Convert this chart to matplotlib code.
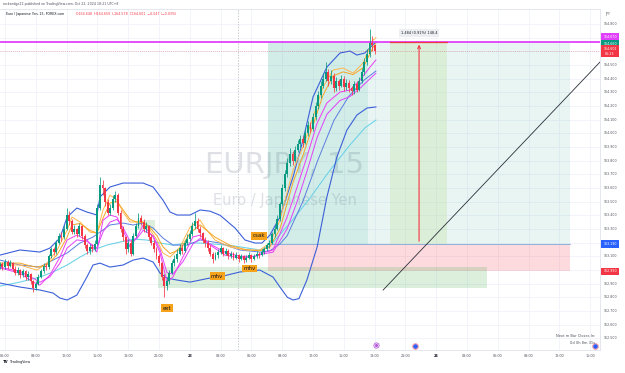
import matplotlib
matplotlib.use('Agg')
import matplotlib.pyplot as plt
import matplotlib.transforms as mtransforms
from matplotlib.patches import Rectangle
import numpy as np

# ---------------- data ----------------
bar_start = -2
closes = [163.04, 163.02, 163.06, 163.03, 163.05, 163.01, 162.98, 163.00, 162.96, 162.99,
          162.95, 162.97, 162.92, 162.87, 162.90, 162.95, 162.99, 163.03, 163.02, 163.10,
          163.15, 163.13, 163.20, 163.25, 163.24, 163.30, 163.40, 163.36, 163.28, 163.30,
          163.26, 163.32, 163.25, 163.18, 163.14, 163.17, 163.15, 163.19, 163.45, 163.62,
          163.60, 163.50, 163.42, 163.45, 163.52, 163.55, 163.42, 163.30, 163.24, 163.15,
          163.20, 163.12, 163.25, 163.32, 163.38, 163.35, 163.30, 163.32, 163.24, 163.20,
          163.15, 163.10, 163.05, 162.95, 162.88, 162.92, 162.98, 163.05, 163.08, 163.12,
          163.16, 163.14, 163.20, 163.23, 163.26, 163.32, 163.36, 163.30, 163.27, 163.22,
          163.20, 163.16, 163.12, 163.08, 163.11, 163.13, 163.16, 163.12, 163.14, 163.10,
          163.12, 163.09, 163.11, 163.08, 163.10, 163.07, 163.09, 163.11, 163.08, 163.10,
          163.12, 163.11, 163.13, 163.15, 163.18, 163.20, 163.26, 163.30, 163.37, 163.48,
          163.60, 163.70, 163.78, 163.85, 163.80, 163.88, 163.92, 163.96, 163.93, 164.00,
          164.06, 164.03, 164.12, 164.20, 164.28, 164.35, 164.40, 164.45, 164.38, 164.42,
          164.33, 164.38, 164.35, 164.40, 164.34, 164.37, 164.33, 164.31, 164.36, 164.32,
          164.38, 164.45, 164.52, 164.58, 164.66, 164.648, 164.601]
opens = [163.03, 163.04, 163.02, 163.06, 163.03, 163.05, 163.01, 162.98, 163.00, 162.96,
         162.99, 162.95, 162.97, 162.92, 162.87, 162.90, 162.95, 162.99, 163.03, 163.02,
         163.10, 163.15, 163.13, 163.20, 163.25, 163.24, 163.30, 163.40, 163.36, 163.28,
         163.30, 163.26, 163.32, 163.25, 163.18, 163.14, 163.17, 163.15, 163.19, 163.45,
         163.62, 163.60, 163.50, 163.42, 163.45, 163.52, 163.55, 163.42, 163.30, 163.24,
         163.15, 163.20, 163.12, 163.25, 163.32, 163.38, 163.35, 163.30, 163.32, 163.24,
         163.20, 163.15, 163.10, 163.05, 162.95, 162.88, 162.92, 162.98, 163.05, 163.08,
         163.12, 163.16, 163.14, 163.20, 163.23, 163.26, 163.32, 163.36, 163.30, 163.27,
         163.22, 163.20, 163.16, 163.12, 163.08, 163.11, 163.13, 163.16, 163.12, 163.14,
         163.10, 163.12, 163.09, 163.11, 163.08, 163.10, 163.07, 163.09, 163.11, 163.08,
         163.10, 163.12, 163.11, 163.13, 163.15, 163.18, 163.20, 163.26, 163.30, 163.37,
         163.48, 163.60, 163.70, 163.78, 163.85, 163.80, 163.88, 163.92, 163.96, 163.93,
         164.00, 164.06, 164.03, 164.12, 164.20, 164.28, 164.35, 164.40, 164.45, 164.38,
         164.42, 164.33, 164.38, 164.35, 164.40, 164.34, 164.37, 164.33, 164.31, 164.36,
         164.32, 164.38, 164.45, 164.52, 164.58, 164.66, 164.648]
highs = [163.06, 163.06, 163.08, 163.07, 163.07, 163.06, 163.03, 163.02, 163.01, 163.01,
         163.00, 162.99, 162.98, 162.93, 162.92, 162.97, 163.01, 163.05, 163.05, 163.12,
         163.17, 163.17, 163.22, 163.27, 163.28, 163.33, 163.45, 163.43, 163.37, 163.33,
         163.31, 163.34, 163.33, 163.26, 163.20, 163.19, 163.19, 163.22, 163.48, 163.68,
         163.66, 163.61, 163.52, 163.48, 163.55, 163.58, 163.56, 163.44, 163.32, 163.25,
         163.23, 163.22, 163.27, 163.34, 163.42, 163.40, 163.37, 163.35, 163.33, 163.26,
         163.22, 163.17, 163.12, 163.06, 162.97, 162.95, 163.00, 163.07, 163.11, 163.15,
         163.19, 163.18, 163.22, 163.26, 163.29, 163.35, 163.42, 163.38, 163.32, 163.28,
         163.24, 163.22, 163.18, 163.13, 163.13, 163.15, 163.18, 163.17, 163.16, 163.15,
         163.14, 163.13, 163.13, 163.12, 163.12, 163.11, 163.11, 163.13, 163.12, 163.12,
         163.14, 163.13, 163.15, 163.17, 163.20, 163.22, 163.28, 163.33, 163.40, 163.50,
         163.63, 163.73, 163.82, 163.89, 163.87, 163.91, 163.95, 163.99, 163.98, 164.03,
         164.09, 164.08, 164.15, 164.23, 164.31, 164.38, 164.44, 164.52, 164.47, 164.46,
         164.44, 164.41, 164.40, 164.43, 164.42, 164.40, 164.39, 164.35, 164.38, 164.38,
         164.41, 164.48, 164.55, 164.62, 164.76, 164.71, 164.650]
lows = [163.01, 163.00, 163.01, 163.01, 163.02, 162.99, 162.96, 162.96, 162.94, 162.95,
        162.93, 162.93, 162.90, 162.84, 162.85, 162.89, 162.94, 162.98, 163.00, 163.01,
        163.09, 163.11, 163.12, 163.19, 163.21, 163.23, 163.29, 163.33, 163.26, 163.26,
        163.24, 163.25, 163.23, 163.16, 163.12, 163.12, 163.13, 163.14, 163.18, 163.44,
        163.55, 163.47, 163.40, 163.40, 163.44, 163.50, 163.40, 163.28, 163.21, 163.12,
        163.13, 163.10, 163.11, 163.24, 163.31, 163.33, 163.28, 163.28, 163.22, 163.18,
        163.13, 163.08, 163.03, 162.93, 162.80, 162.85, 162.90, 162.97, 163.03, 163.06,
        163.11, 163.12, 163.13, 163.18, 163.21, 163.25, 163.30, 163.28, 163.24, 163.20,
        163.17, 163.14, 163.10, 163.05, 163.07, 163.09, 163.12, 163.10, 163.11, 163.08,
        163.09, 163.07, 163.08, 163.06, 163.07, 163.05, 163.06, 163.08, 163.06, 163.07,
        163.09, 163.09, 163.10, 163.12, 163.14, 163.16, 163.19, 163.24, 163.29, 163.36,
        163.47, 163.58, 163.68, 163.76, 163.77, 163.79, 163.86, 163.90, 163.90, 163.92,
        163.98, 164.01, 164.02, 164.10, 164.18, 164.26, 164.33, 164.38, 164.35, 164.36,
        164.30, 164.31, 164.32, 164.34, 164.31, 164.32, 164.30, 164.28, 164.29, 164.30,
        164.31, 164.37, 164.43, 164.50, 164.56, 164.60, 164.578]

# indicator lines (bar index, price)
bb_up_x = [-1.9, 5.8, 13.6, 17.5, 21.4, 24.2, 28.0, 31.9, 35.8, 37.0, 40.9, 46.0, 53.8, 57.7, 61.5,
           64.3, 67.0, 72.1, 76.0, 79.9, 83.8, 89.6, 93.5, 97.4, 100.1, 103.2, 107.1, 112.2, 116.1,
           120.0, 125.4, 130.5, 134.4, 137.1, 140.2, 143.4, 144.5]
bb_up_y = [163.109, 163.146, 163.131, 163.160, 163.234, 163.387, 163.453, 163.424, 163.402, 163.534,
           163.607, 163.636, 163.636, 163.607, 163.512, 163.424, 163.402, 163.402, 163.439, 163.43,
           163.40, 163.307, 163.219, 163.197, 163.197, 163.255, 163.387, 163.680, 163.951, 164.266,
           164.485, 164.588, 164.602, 164.573, 164.588, 164.65, 164.668]
bb_lo_x = [-1.9, 5.8, 13.6, 18.7, 21.4, 24.2, 28.0, 31.9, 34.3, 37.0, 40.9, 46.0, 49.9, 53.8, 57.7,
           60.4, 63.1, 67.0, 72.1, 76.0, 79.9, 83.8, 91.5, 99.3, 104.4, 107.1, 110.0, 112.2, 114.5,
           117.6, 121.6, 125.4, 129.3, 133.2, 137.1, 141.0, 144.5]
bb_lo_y = [162.904, 162.875, 162.853, 162.831, 162.794, 162.780, 162.816, 162.948, 163.036, 163.050,
           163.021, 163.036, 163.072, 163.087, 163.058, 162.977, 162.941, 162.926, 162.911, 162.926,
           162.941, 162.95, 162.985, 162.999, 162.948, 162.875, 162.80, 162.78, 162.79, 162.926,
           163.168, 163.534, 163.827, 164.024, 164.134, 164.185, 164.193]
bb_mid_x = [-1.9, 5.8, 13.6, 18.7, 24.2, 29.2, 34.3, 37.0, 40.9, 46.0, 49.9, 53.8, 57.7, 61.5, 65.4,
            70.9, 76.0, 83.8, 91.5, 99.3, 103.2, 107.1, 109.9, 116.1, 121.9, 128.2, 134.0, 139.9, 144.5]
bb_mid_y = [163.072, 163.036, 163.021, 163.072, 163.124, 163.197, 163.241, 163.277, 163.329, 163.343,
            163.329, 163.343, 163.307, 163.234, 163.182, 163.182, 163.219, 163.197, 163.146, 163.131,
            163.14, 163.19, 163.25, 163.504, 163.805, 164.097, 164.273, 164.39, 164.456]
slow_x = [-1.9, 5.8, 13.6, 18.7, 24.2, 29.2, 34.3, 39.7, 44.8, 49.9, 55.3, 60.4, 65.4, 70.9, 76.0,
          87.7, 99.3, 103.2, 111.0, 118.8, 126.6, 134.4, 140.2, 144.5]
slow_y = [162.882, 162.911, 162.948, 162.985, 163.036, 163.094, 163.146, 163.182, 163.204, 163.226,
          163.219, 163.197, 163.182, 163.197, 163.197, 163.18, 163.146, 163.175, 163.343, 163.526,
          163.73, 163.915, 164.04, 164.097]
ema_x = [-1.9, 5.8, 9.7, 12.5, 16.4, 20.3, 24.2, 26.1, 29.2, 33.1, 35.8, 38.2, 40.9, 43.6, 46.0,
         48.7, 51.4, 53.8, 56.5, 59.2, 61.5, 64.3, 68.2, 72.1, 76.0, 77.9, 81.8, 87.7, 93.5, 99.3,
         103.2, 107.1, 112.2, 116.1, 120.0, 123.9, 127.8, 131.7, 135.6, 139.5, 143.4, 144.5]
ema_fast_y = [163.036, 163.036, 163.014, 162.999, 163.050, 163.146, 163.292, 163.387, 163.351, 163.277,
              163.270, 163.439, 163.548, 163.512, 163.424, 163.351, 163.351, 163.351, 163.292, 163.219,
              163.124, 163.094, 163.168, 163.314, 163.365, 163.307, 163.219, 163.168, 163.146, 163.146,
              163.197, 163.365, 163.731, 163.900, 164.119, 164.339, 164.463, 164.478, 164.441, 164.515,
              164.683, 164.70]
ema_slow_y = [163.05, 163.05, 163.03, 163.02, 163.04, 163.11, 163.24, 163.33, 163.34, 163.29,
              163.27, 163.38, 163.49, 163.50, 163.44, 163.37, 163.35, 163.35, 163.31, 163.25,
              163.17, 163.12, 163.15, 163.27, 163.33, 163.30, 163.24, 163.18, 163.15, 163.14,
              163.17, 163.30, 163.64, 163.84, 164.06, 164.28, 164.42, 164.45, 164.43, 164.48,
              164.63, 164.66]
ma_x = [-1.9, 5.8, 10.9, 13.6, 17.5, 21.4, 24.2, 28.0, 31.9, 35.8, 38.2, 40.9, 43.6, 46.0, 48.7,
        51.4, 53.8, 57.7, 60.4, 63.1, 65.4, 69.3, 73.2, 76.0, 79.9, 85.7, 91.5, 97.4, 101.3, 104.4,
        109.9, 113.8, 117.6, 121.6, 125.4, 130.5, 134.4, 138.3, 142.2, 144.5]
ma_fast_y = [163.014, 162.977, 162.911, 162.889, 162.963, 163.094, 163.219, 163.255, 163.219, 163.131,
             163.365, 163.402, 163.387, 163.292, 163.168, 163.241, 163.329, 163.241, 163.124, 162.911,
             162.948, 163.094, 163.241, 163.255, 163.182, 163.109, 163.087, 163.10, 163.131, 163.146,
             163.387, 163.607, 163.827, 164.075, 164.222, 164.302, 164.317, 164.390, 164.485, 164.537]
ma_slow_y = [163.02, 162.99, 162.94, 162.91, 162.95, 163.05, 163.16, 163.22, 163.21, 163.16,
             163.28, 163.35, 163.37, 163.31, 163.21, 163.23, 163.29, 163.25, 163.15, 162.98,
             162.97, 163.06, 163.19, 163.23, 163.19, 163.13, 163.10, 163.10, 163.12, 163.13,
             163.30, 163.50, 163.72, 163.97, 164.14, 164.24, 164.27, 164.33, 164.40, 164.44]

# drawings
entry_price, stop_price, target_price = 163.190, 162.990, 164.660
alert_price = 164.670
last_price = 164.601
time_ticks = list(range(0, 229, 12))
time_labels = ['06:00', '09:00', '12:00', '15:00', '18:00', '21:00', '23', '03:00', '06:00', '09:00',
               '12:00', '15:00', '18:00', '21:00', '24', '03:00', '06:00', '09:00', '12:00', '15:00']
price_ticks = [round(162.5 + 0.1 * i, 1) for i in range(24)]
hidden_price_ticks = [164.7, 164.6, 163.2, 163.0]

# ---------------- figure ----------------
W, H = 625, 373
fig = plt.figure(figsize=(W / 100, H / 100), dpi=100)
fig.patch.set_facecolor('white')
ax = fig.add_axes([0, 23 / H, 600 / W, 341 / H])
ax.set_xlim(-1.948, 231.79)
ax.set_ylim(162.414, 164.910)
ax.set_facecolor('white')
for s in ax.spines.values():
    s.set_color('#e0e3eb')
    s.set_linewidth(0.6)
ax.spines['left'].set_visible(False)
ax.set_xticks(time_ticks)
ax.set_yticks(price_ticks)
ax.tick_params(length=0, labelbottom=False, labelleft=False)
ax.grid(True, color='#f0f3fa', linewidth=0.6)
ax.set_axisbelow(True)

# watermark
ax.text(108.9, 163.77, 'EURJPY, 15', ha='center', va='center', fontsize=21,
        color='#c9ccd4', alpha=0.6, zorder=0.6)
ax.text(108.9, 163.51, 'Euro / Japanese Yen', ha='center', va='center', fontsize=10.5,
        color='#c9ccd4', alpha=0.6, zorder=0.6)

# zones
ax.add_patch(Rectangle((102.5, entry_price), 141.5 - 102.5, target_price + 0.01 - entry_price,
                       facecolor='#089981', alpha=0.18, lw=0, zorder=1))
ax.add_patch(Rectangle((141.5, entry_price), 220 - 141.5, target_price + 0.01 - entry_price,
                       facecolor='#089981', alpha=0.09, lw=0, zorder=1))
ax.add_patch(Rectangle((102.5, stop_price), 220 - 102.5, entry_price - stop_price,
                       facecolor='#f23645', alpha=0.18, lw=0, zorder=1))
ax.add_patch(Rectangle((59.6, 162.867), 187.8 - 59.6, 163.021 - 162.867,
                       facecolor='#4caf50', alpha=0.2, lw=0, zorder=1))
ax.add_patch(Rectangle((51.4, 163.29), 58.4 - 51.4, 163.365 - 163.29,
                       facecolor='#4caf50', alpha=0.2, lw=0, zorder=1))
ax.add_patch(Rectangle((150.0, entry_price), 172.2 - 150.0, alert_price - entry_price,
                       facecolor='#c5e1a5', alpha=0.35, lw=0, zorder=1.1))
ax.plot([102.5, 220], [entry_price, entry_price], color='#7fa8d8', lw=0.6, zorder=1.2)

# session separator
ax.axvline(90.8, color='#b2b5be', lw=0.5, ls=(0, (2, 2)), zorder=1.3)

# horizontal lines
ax.axhline(alert_price, color='#e040fb', lw=1.3, zorder=2.5)
ax.axhline(last_price, color='#f23645', lw=0.5, ls=(0, (1, 2)), alpha=0.6, zorder=2.5)

# indicators
ax.plot(slow_x, slow_y, color='#6fd3e8', lw=0.8, zorder=2)
ax.plot(bb_up_x, bb_up_y, color='#3b5fd9', lw=0.8, zorder=2)
ax.plot(bb_lo_x, bb_lo_y, color='#3b5fd9', lw=0.8, zorder=2)
ax.plot(bb_mid_x, bb_mid_y, color='#5b7de0', lw=0.7, zorder=2)
ax.plot(ema_x, ema_fast_y, color='#ffb74d', lw=0.7, zorder=2.2)
ax.plot(ema_x, ema_slow_y, color='#f5a623', lw=0.7, zorder=2.2)
ax.plot(ma_x, ma_fast_y, color='#ee3bf2', lw=0.7, zorder=2.2)
ax.plot(ma_x, ma_slow_y, color='#e040fb', lw=0.7, zorder=2.2)

# candles
n = np.arange(bar_start, bar_start + len(closes))
o = np.array(opens); c = np.array(closes); h = np.array(highs); l = np.array(lows)
up = c >= o
cols = np.where(up, '#089981', '#f23645')
ax.vlines(n, l, h, colors=cols, lw=0.55, zorder=3)
body_h = np.maximum(np.abs(c - o), 0.004)
ax.bar(n, body_h, bottom=np.minimum(o, c), width=0.74, color=cols, lw=0, zorder=3.1)

# measure tool
ax.plot([150.0, 172.2], [alert_price, alert_price], color='#f23645', lw=0.9, zorder=3.5)
ax.annotate('', xy=(161.3, alert_price), xytext=(161.3, entry_price),
            arrowprops=dict(arrowstyle='->', color='#f23645', lw=0.8, mutation_scale=5), zorder=3.5)
ax.text(161.3, 164.735, '1.484 (0.91%) 148.4', ha='center', va='center', fontsize=2.5,
        color='#131722', zorder=4,
        bbox=dict(boxstyle='square,pad=0.5', fc='#eceef2', ec='none'))

# trend line
ax.plot([147.3, 231.8], [162.853, 164.522], color='#2a2e39', lw=0.6, zorder=3.5)

# labels
def tag(x, y, s):
    ax.text(x, y, s, ha='center', va='center', fontsize=4, color='#131722', zorder=5,
            bbox=dict(boxstyle='square,pad=0.25', fc='#f7a21b', ec='none'))
tag(99.0, 163.25, 'csak')
tag(82.6, 162.955, 'mhv')
tag(95.4, 163.01, 'mhv')
tag(63.1, 162.72, 'ext')

# events
ax.scatter([144.5], [162.45], s=14, facecolor='white', edgecolor='#b35ad9', lw=0.6, zorder=5, clip_on=False)
ax.scatter([144.5], [162.45], s=1.5, color='#b35ad9', zorder=5.1, clip_on=False)
ax.scatter([159.7, 229.8], [162.44, 162.44], s=16, facecolor='#2962ff', edgecolor='#f7a1a8', lw=0.8,
           zorder=5, clip_on=False)

# ---------------- axis texts ----------------
tx = mtransforms.blended_transform_factory(ax.transData, fig.transFigure)
for t, lab in zip(time_ticks, time_labels):
    bold = lab in ('23', '24')
    ax.text(t, 1 - 356 / H, lab, transform=tx, ha='center', va='center', fontsize=2.4,
            color='#131722' if bold else '#50535e', fontweight='bold' if bold else 'normal',
            clip_on=False)

ty = mtransforms.blended_transform_factory(fig.transFigure, ax.transData)
for p in price_ticks:
    if p in hidden_price_ticks:
        continue
    ax.text(610 / W, p, f'{p:.3f}', transform=ty, ha='center', va='center', fontsize=2.3,
            color='#50535e', clip_on=False)

def price_box(p, txt, col):
    ax.text(610 / W, p, txt, transform=ty, ha='center', va='center', fontsize=2.3, color='white',
            clip_on=False, zorder=6, linespacing=1.3,
            bbox=dict(boxstyle='square,pad=0.55', fc=col, ec='none'))
price_box(164.708, '164.670', '#e040fb')
price_box(164.655, '164.660', '#089981')
price_box(164.601, '164.601\n06:23', '#f23645')
price_box(163.19, '163.190', '#2962ff')
price_box(162.99, '162.990', '#f23645')

fig.text(608 / W, 1 - 14 / H, 'JPY', ha='center', va='center', fontsize=2.3, color='#50535e')

# header
fig.text(3 / W, 1 - 4.5 / H, 'rocksedge22 published on TradingView.com, Oct 22, 2024 18:21 UTC+8',
         ha='left', va='center', fontsize=2.3, color='#50535e')
fig.text(6 / W, 1 - 14 / H, 'Euro / Japanese Yen, 15, FOREX.com', ha='left', va='center',
         fontsize=2.3, color='#131722')
fig.text(76 / W, 1 - 14 / H, 'O164.648  H164.650  L164.578  C164.601  \u22120.047 (\u22120.03%)',
         ha='left', va='center', fontsize=2.3, color='#f23645')

# footer
fig.text(595 / W, 1 - 336 / H, 'Next m Bar Closes In:', ha='right', va='center', fontsize=2.6,
         color='#50535e')
fig.text(595 / W, 1 - 343 / H, '0d 0h 8m 31s', ha='right', va='center', fontsize=2.6,
         color='#50535e')
fig.text(3 / W, 1 - 362 / H, 'TV', ha='left', va='center', fontsize=2.8, fontweight='bold',
         color='#131722')
fig.text(10 / W, 1 - 362 / H, 'TradingView', ha='left', va='center', fontsize=2.4, color='#131722')

fig.savefig('out.png', dpi=100, facecolor='white')
